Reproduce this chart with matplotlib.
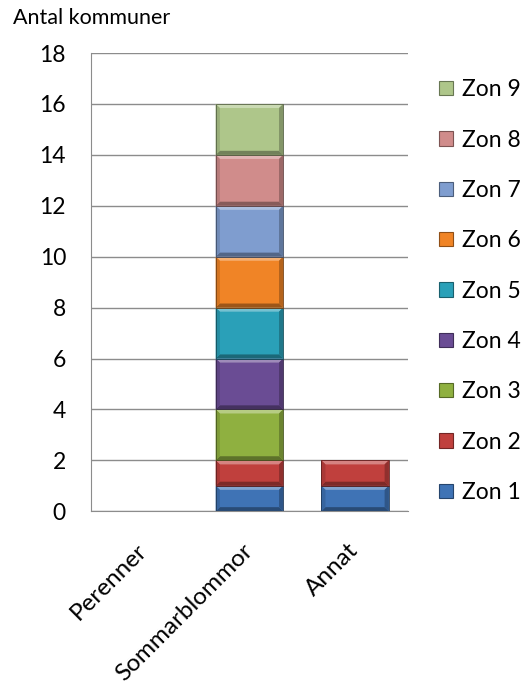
import numpy as np
import matplotlib.pyplot as plt
from matplotlib.patches import Polygon, Rectangle
from matplotlib.colors import to_rgb

plt.rcParams['font.family'] = ['Lato', 'DejaVu Sans']

categories = ['Perenner', 'Sommarblommor', 'Annat']
zones = ['Zon 1', 'Zon 2', 'Zon 3', 'Zon 4', 'Zon 5', 'Zon 6', 'Zon 7', 'Zon 8', 'Zon 9']
values = {
    'Zon 1': [0, 1, 1],
    'Zon 2': [0, 1, 1],
    'Zon 3': [0, 2, 0],
    'Zon 4': [0, 2, 0],
    'Zon 5': [0, 2, 0],
    'Zon 6': [0, 2, 0],
    'Zon 7': [0, 2, 0],
    'Zon 8': [0, 2, 0],
    'Zon 9': [0, 2, 0],
}
colors = ['#3f73b5', '#c0403d', '#8fb040', '#6a4c94', '#2aa0b8',
          '#f08426', '#7f9dcf', '#d08c8b', '#aec68a']


def shade(c, f):
    r, g, b = to_rgb(c)
    if f > 0:
        return (r + (1 - r) * f, g + (1 - g) * f, b + (1 - b) * f)
    return (r * (1 + f), g * (1 + f), b * (1 + f))


fig = plt.figure(figsize=(5.29, 6.89), dpi=100)
ax = fig.add_axes([0.172, 0.258, 0.599, 0.665])

x = np.arange(len(categories))
width = 0.64
bx = 0.04   # bevel in x data units
by = 0.16   # bevel in y data units
bottom = np.zeros(len(categories))
for z, c in zip(zones, colors):
    v = np.array(values[z], dtype=float)
    for i in range(len(categories)):
        if v[i] <= 0:
            continue
        x0, x1 = x[i] - width / 2, x[i] + width / 2
        y0, y1 = bottom[i], bottom[i] + v[i]
        ax.add_patch(Rectangle((x0, y0), width, v[i], facecolor=c, edgecolor='none', zorder=3))
        # bevel faces
        top = [(x0, y1), (x1, y1), (x1 - bx, y1 - by), (x0 + bx, y1 - by)]
        bot = [(x0, y0), (x1, y0), (x1 - bx, y0 + by), (x0 + bx, y0 + by)]
        lft = [(x0, y0), (x0, y1), (x0 + bx, y1 - by), (x0 + bx, y0 + by)]
        rgt = [(x1, y0), (x1, y1), (x1 - bx, y1 - by), (x1 - bx, y0 + by)]
        ax.add_patch(Polygon(top, closed=True, facecolor=shade(c, 0.35), edgecolor='none', zorder=4))
        ax.add_patch(Polygon(bot, closed=True, facecolor=shade(c, -0.35), edgecolor='none', zorder=4))
        ax.add_patch(Polygon(lft, closed=True, facecolor=shade(c, -0.12), edgecolor='none', zorder=4))
        ax.add_patch(Polygon(rgt, closed=True, facecolor=shade(c, -0.25), edgecolor='none', zorder=4))
        ax.add_patch(Rectangle((x0, y0), width, v[i], facecolor='none',
                               edgecolor=shade(c, -0.5), linewidth=0.6, zorder=5))
    bottom += v

ax.set_xlim(-0.5, 2.5)
ax.set_ylim(0, 18)
ax.set_yticks(range(0, 19, 2))
ax.yaxis.grid(True, color='#8c8c8c', linewidth=1)
ax.set_axisbelow(True)
for s in ['top', 'right']:
    ax.spines[s].set_visible(False)
ax.spines['left'].set_color('#8c8c8c')
ax.spines['bottom'].set_color('#8c8c8c')
ax.tick_params(axis='y', length=0, pad=18, labelsize=16.5)
ax.tick_params(axis='x', length=0, pad=26, labelsize=17.5)
ax.set_xticks(x)
ax.set_xticklabels(categories, rotation=45, ha='right', va='center', rotation_mode='anchor')

fig.text(0.025, 0.974, 'Antal kommuner', fontsize=15.5, ha='left', va='center')

handles = [Rectangle((0, 0), 1, 1, facecolor=c, edgecolor=shade(c, -0.4), linewidth=0.8) for c in colors]
leg = fig.legend(handles[::-1], zones[::-1], loc='upper left', bbox_to_anchor=(0.83, 0.885),
                 frameon=False, fontsize=16.5, labelspacing=1.28, handlelength=0.6,
                 handleheight=0.6, handletextpad=0.4, borderaxespad=0, borderpad=0)

fig.savefig('out.png', dpi=100)
